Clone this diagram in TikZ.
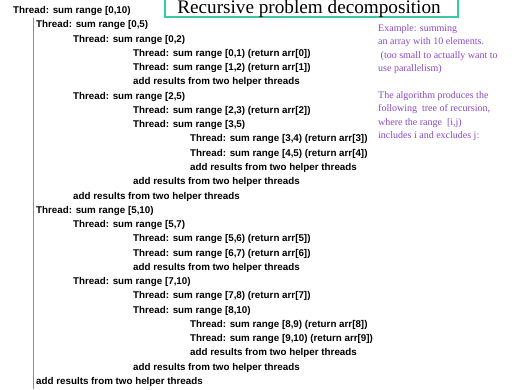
\documentclass[tikz,border=0pt]{standalone}
\usepackage{fontspec}
\usepackage{xcolor}
\usepackage{tikz}
\newfontfamily\threadfont{Liberation Sans}
\newfontfamily\notefont{Liberation Serif}
\definecolor{notepurple}{RGB}{138,72,200}
\definecolor{framegreen}{RGB}{60,200,160}
\definecolor{barblue}{RGB}{128,128,224}

\begin{document}
\begin{tikzpicture}[x=1pt,y=1pt,
  threadline/.style={anchor=west,inner sep=0pt,text height=7pt,text depth=0pt,font=\threadfont\bfseries\fontsize{9.8}{11}\selectfont},
  noteline/.style={anchor=base west,inner sep=0pt,text=notepurple,font=\notefont\fontsize{10}{12}\selectfont},
  titleframe/.style={draw=framegreen,line width=1.2pt},
  titletext/.style={anchor=base,inner sep=0pt,font=\notefont\fontsize{19.2}{22}\selectfont}]
\useasboundingbox (0,0) rectangle (521,-389);
% title
\draw[titleframe] (165,-17) rectangle (458,4);
\node[titletext] (title) at (309,-13.2) {Recursive problem decomposition};
% bar along the two children of the root
\coordinate (bartop) at (33.5,-18);
\coordinate (barbot) at (33.5,-389);
\draw[barblue,line width=1pt] (bartop) -- (barbot);
% tree of recursion, one line per level
\foreach \lv/\txt [count=\n from 0] in %
{0/{Thread: sum range [0,10)},
 1/{Thread: sum range [0,5)},
 2/{Thread: sum range [0,2)},
 3/{Thread: sum range [0,1) (return arr[0])},
 3/{Thread: sum range [1,2) (return arr[1])},
 3/{add results from two helper threads},
 2/{Thread: sum range [2,5)},
 3/{Thread: sum range [2,3) (return arr[2])},
 3/{Thread: sum range [3,5)},
 4/{Thread: sum range [3,4) (return arr[3])},
 4/{Thread: sum range [4,5) (return arr[4])},
 4/{add results from two helper threads},
 3/{add results from two helper threads},
 2/{add results from two helper threads},
 1/{Thread: sum range [5,10)},
 2/{Thread: sum range [5,7)},
 3/{Thread: sum range [5,6) (return arr[5])},
 3/{Thread: sum range [6,7) (return arr[6])},
 3/{add results from two helper threads},
 2/{Thread: sum range [7,10)},
 3/{Thread: sum range [7,8) (return arr[7])},
 3/{Thread: sum range [8,10)},
 4/{Thread: sum range [8,9) (return arr[8])},
 4/{Thread: sum range [9,10) (return arr[9])},
 4/{add results from two helper threads},
 3/{add results from two helper threads},
 1/{add results from two helper threads}} {
   \pgfmathsetmacro{\xin}{{13,36,73,133,190}[\lv]}
   \node[threadline] (line\n) at (\xin,{-10-14.27*\n}) {\txt};
}
% notes on the right
\foreach \y/\1 [count=\n] in %
{31/{Example: summing},
 44.6/{an array with 10 elements.},
 58.2/{\ (too small to actually want to},
 71.8/{use parallelism)},
 98/{The algorithm produces the},
 111.6/{following\ \ tree of recursion,},
 125.2/{where the range\ \ [i,j)},
 138.8/{includes i and excludes j:}} {
   \node[noteline] (note\n) at (378,-\y) {\1};
}
\end{tikzpicture}
\end{document}
